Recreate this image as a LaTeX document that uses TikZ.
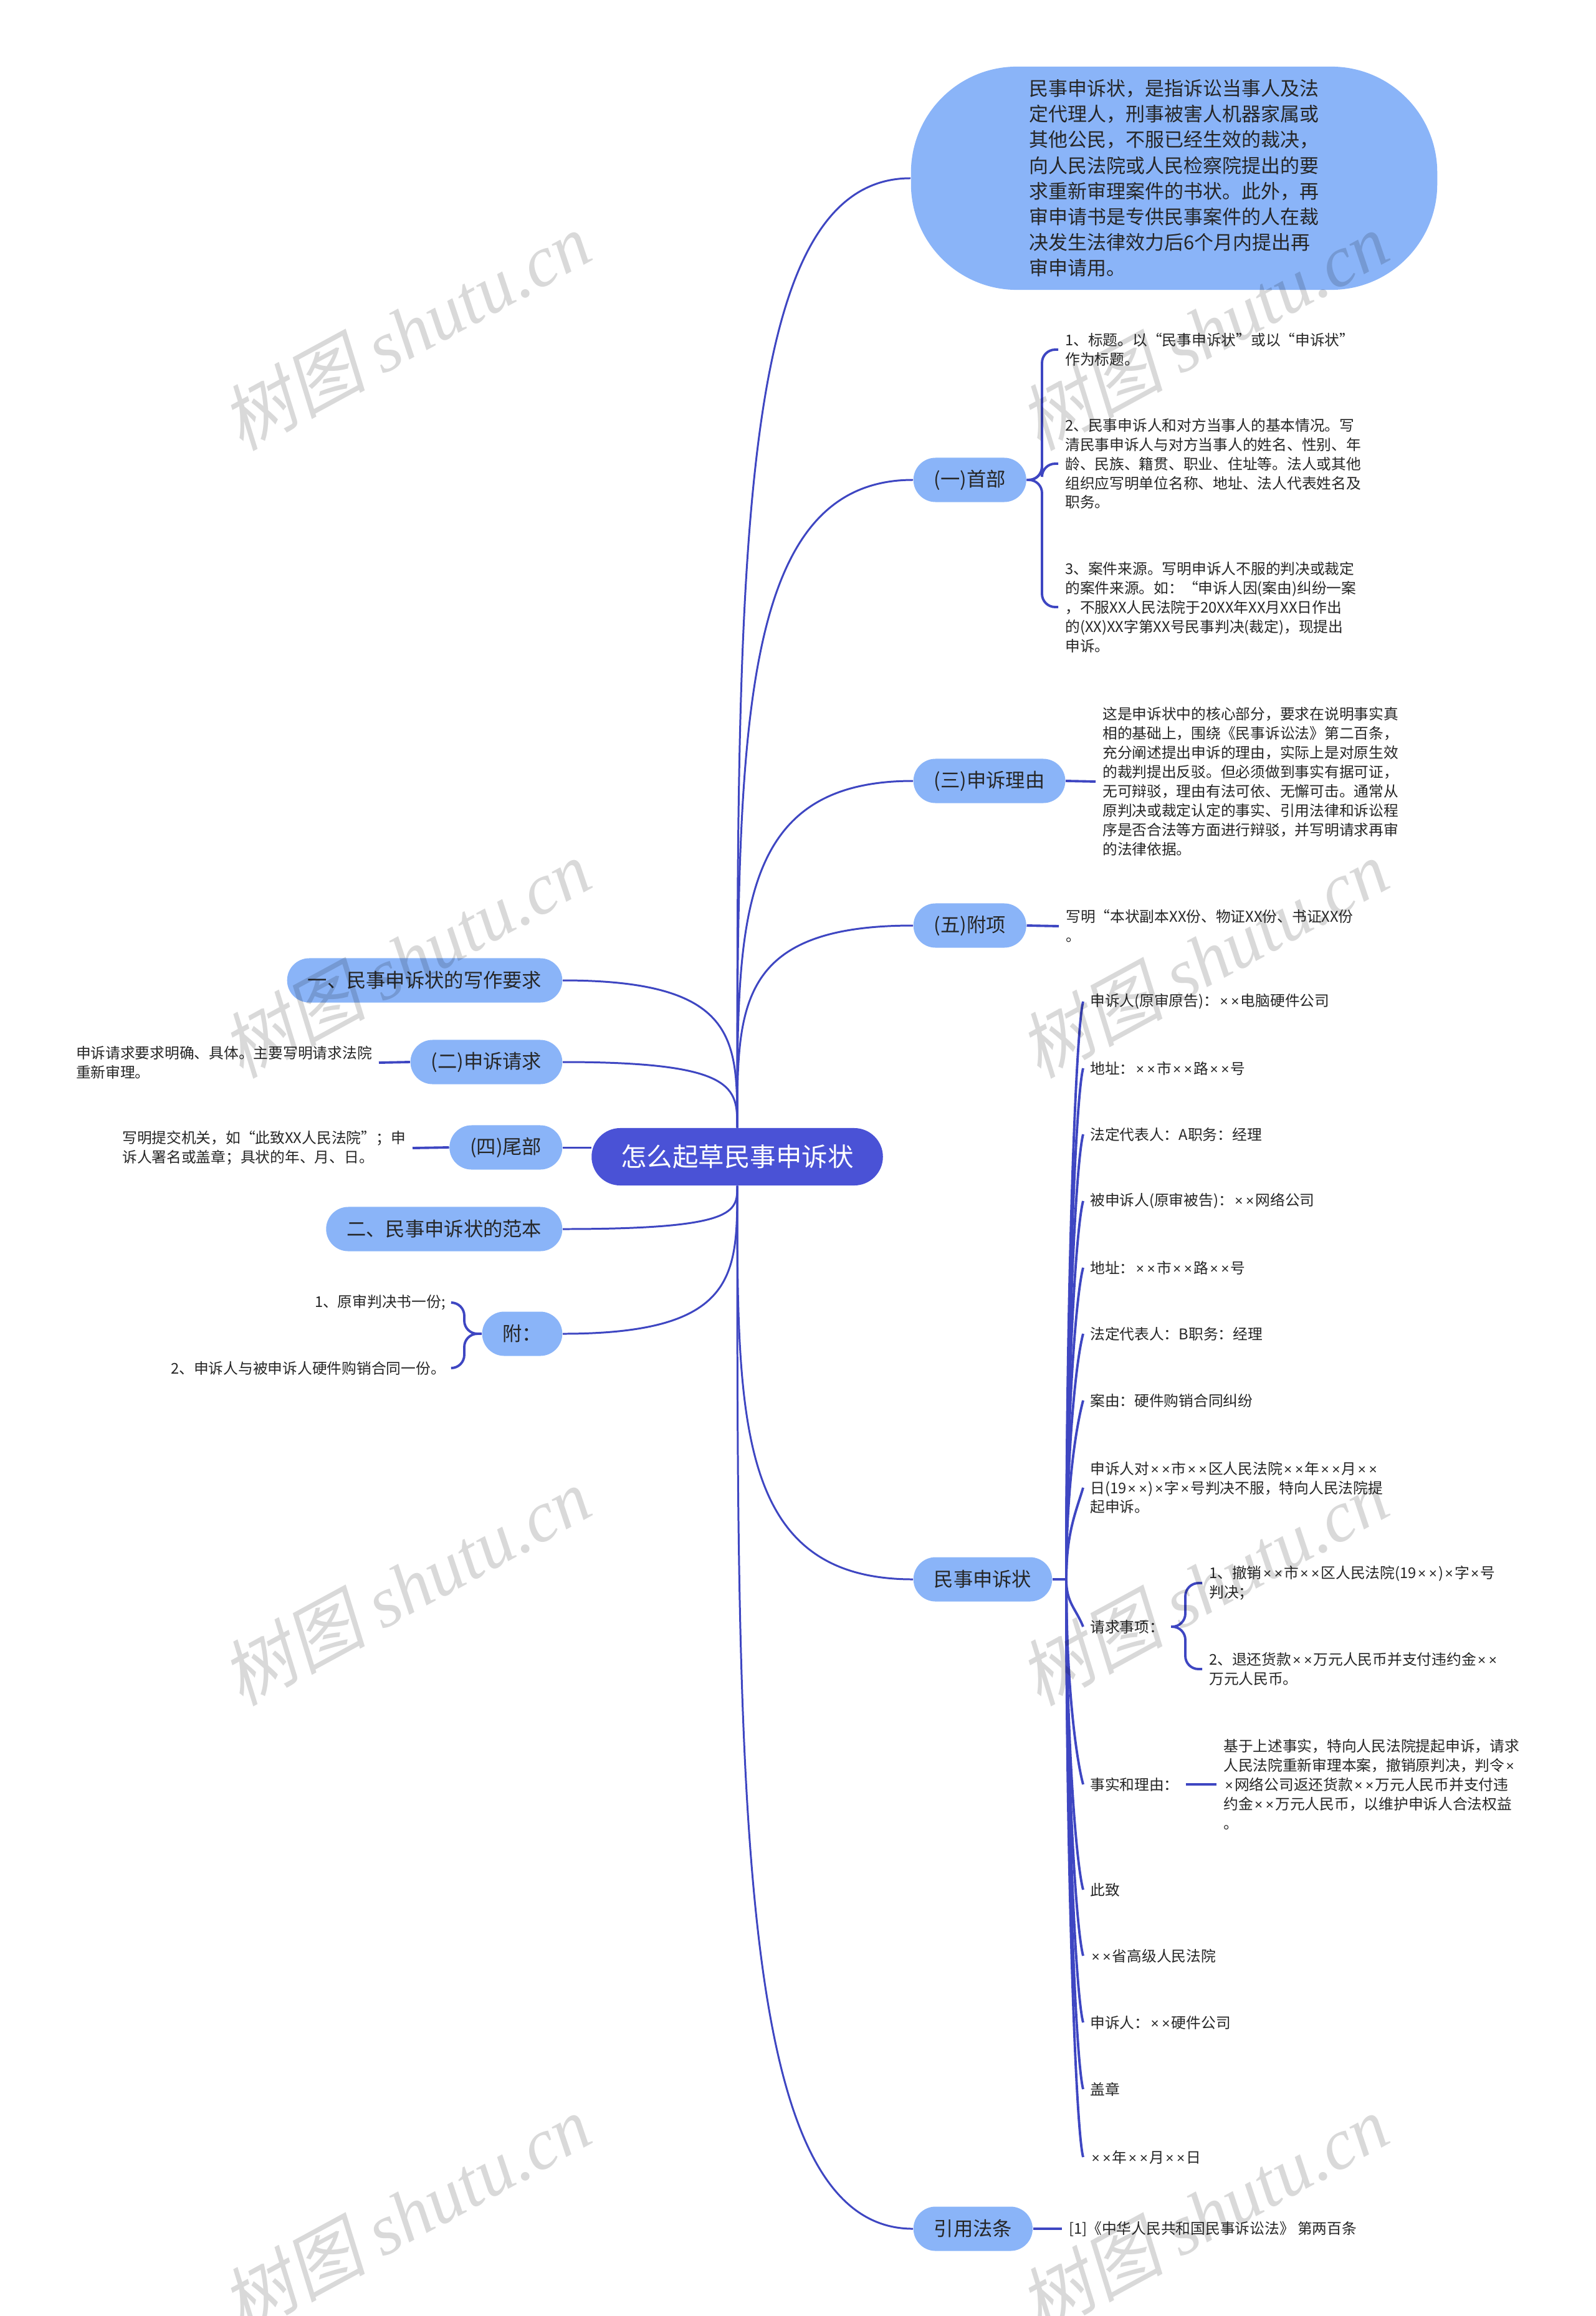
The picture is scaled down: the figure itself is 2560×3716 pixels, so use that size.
\documentclass[tikz,border=0pt]{standalone}
\usepackage{fontspec}
\setmainfont{Noto Sans CJK SC}
\newfontfamily\wmlatin{Liberation Serif}
\newfontfamily\wmcjk[FakeSlant=0.2]{Noto Sans CJK SC}
\newfontfamily\tmsfont{Liberation Sans}
\usepackage{tikz}

\definecolor{rootblue}{HTML}{4A52D6}
\definecolor{topicblue}{HTML}{8AB4F8}
\definecolor{linkblue}{HTML}{3E46C2}
\definecolor{inkgray}{HTML}{262626}

\newcommand\tms{\makebox[0.75em]{\tmsfont\fontsize{6.4}{6}\selectfont ×}}

\begin{document}
\begin{tikzpicture}[x=0.01cm, y=-0.01cm,
	rootbox/.style={fill=rootblue, text=white, rounded corners=0.46cm,
		minimum height=0.92cm, inner xsep=0.47cm, font=\fontsize{11.8}{14}\selectfont},
	defbox/.style={fill=topicblue, text=inkgray, rounded corners=1.7cm,
		minimum width=8.44cm, minimum height=3.58cm, align=left,
		font=\fontsize{8.8}{11.7}\selectfont},
	topic/.style={fill=topicblue, text=inkgray, rounded corners=0.355cm,
		minimum height=0.71cm, inner xsep=0.33cm, font=\fontsize{8.9}{10}\selectfont},
	leaf/.style={text=inkgray, align=left, inner xsep=3pt, inner ysep=1pt,
		font=\fontsize{6.75}{8.8}\selectfont},
	trunk/.style={draw=linkblue, line width=0.85pt},
	branch/.style={draw=linkblue, line width=1.1pt, rounded corners=6pt},
	wmtext/.style={rotate=28.5, text=black, text opacity=0.15, inner sep=0,
		font=\fontsize{33}{33}\selectfont}]

\fill[white] (0, 0) rectangle (2560, 3716);
\useasboundingbox (0, 0) rectangle (2560, 3716);

\node[rootbox] (root) at (1183, 1856) {怎么起草民事申诉状};

%right topics
\node[defbox] (def) at (1884, 286) {民事申诉状，是指诉讼当事人及法\\定代理人，刑事被害人机器家属或\\其他公民，不服已经生效的裁决，\\向人民法院或人民检察院提出的要\\求重新审理案件的书状。此外，再\\审申请书是专供民事案件的人在裁\\决发生法律效力后6个月内提出再\\审申请用。};
\node[topic, anchor=west] (shoubu) at (1465, 770) {(一)首部};
\node[topic, anchor=west] (liyou) at (1465, 1253) {(三)申诉理由};
\node[topic, anchor=west] (fuxiang) at (1465, 1485) {(五)附项};
\node[topic, anchor=west] (zhuang) at (1465, 2534) {民事申诉状};
\node[topic, anchor=west] (fatiao) at (1465, 3576) {引用法条};

%left topics
\node[topic, anchor=east] (req) at (903, 1573) {一、民事申诉状的写作要求};
\node[topic, anchor=east] (qingqiu) at (903, 1704) {(二)申诉请求};
\node[topic, anchor=east] (weibu) at (903, 1841) {(四)尾部};
\node[topic, anchor=east] (fanben) at (903, 1972) {二、民事申诉状的范本};
\node[topic, anchor=east] (fu) at (903, 2140) {附：};

%leaves
\node[leaf, anchor=west] (s1) at (1698, 561) {1、标题。以“民事申诉状”或以“申诉状”\\作为标题。};
\node[leaf, anchor=west] (s2) at (1698, 744) {2、民事申诉人和对方当事人的基本情况。写\\清民事申诉人与对方当事人的姓名、性别、年\\龄、民族、籍贯、职业、住址等。法人或其他\\组织应写明单位名称、地址、法人代表姓名及\\职务。};
\node[leaf, anchor=west] (s3) at (1698, 974) {3、案件来源。写明申诉人不服的判决或裁定\\的案件来源。如：“申诉人因(案由)纠纷一案\\，不服XX人民法院于20XX年XX月XX日作出\\的(XX)XX字第XX号民事判决(裁定)，现提出\\申诉。};
\node[leaf, anchor=west] (ly1) at (1758, 1254) {这是申诉状中的核心部分，要求在说明事实真\\相的基础上，围绕《民事诉讼法》第二百条，\\充分阐述提出申诉的理由，实际上是对原生效\\的裁判提出反驳。但必须做到事实有据可证，\\无可辩驳，理由有法可依、无懈可击。通常从\\原判决或裁定认定的事实、引用法律和诉讼程\\序是否合法等方面进行辩驳，并写明请求再审\\的法律依据。};
\node[leaf, anchor=west] (fx1) at (1699, 1486) {写明“本状副本XX份、物证XX份、书证XX份\\。};

\node[leaf, anchor=west] (z1) at (1738, 1607) {申诉人(原审原告)：\tms\tms 电脑硬件公司};
\node[leaf, anchor=west] (z2) at (1738, 1714) {地址：\tms\tms 市\tms\tms 路\tms\tms 号};
\node[leaf, anchor=west] (z3) at (1738, 1820) {法定代表人：A职务：经理};
\node[leaf, anchor=west] (z4) at (1738, 1927) {被申诉人(原审被告)：\tms\tms 网络公司};
\node[leaf, anchor=west] (z5) at (1738, 2034) {地址：\tms\tms 市\tms\tms 路\tms\tms 号};
\node[leaf, anchor=west] (z6) at (1738, 2140) {法定代表人：B职务：经理};
\node[leaf, anchor=west] (z7) at (1738, 2247) {案由：硬件购销合同纠纷};
\node[leaf, anchor=west] (z8) at (1738, 2387) {申诉人对\tms\tms 市\tms\tms 区人民法院\tms\tms 年\tms\tms 月\tms\tms\\日(19\tms\tms)\tms 字\tms 号判决不服，特向人民法院提\\起申诉。};
\node[leaf, anchor=west] (zq) at (1738, 2610) {请求事项：};
\node[leaf, anchor=west] (q1) at (1929, 2540) {1、撤销\tms\tms 市\tms\tms 区人民法院(19\tms\tms)\tms 字\tms 号\\判决；};
\node[leaf, anchor=west] (q2) at (1929, 2678) {2、退还货款\tms\tms 万元人民币并支付违约金\tms\tms\\万元人民币。};
\node[leaf, anchor=west] (zf) at (1738, 2863) {事实和理由：};
\node[leaf, anchor=west] (f1) at (1952, 2863) {基于上述事实，特向人民法院提起申诉，请求\\人民法院重新审理本案，撤销原判决，判令\tms\\\tms 网络公司返还货款\tms\tms 万元人民币并支付违\\约金\tms\tms 万元人民币，以维护申诉人合法权益\\。};
\node[leaf, anchor=west] (z9) at (1738, 3032) {此致};
\node[leaf, anchor=west] (z10) at (1738, 3138) {\tms\tms 省高级人民法院};
\node[leaf, anchor=west] (z11) at (1738, 3245) {申诉人：\tms\tms 硬件公司};
\node[leaf, anchor=west] (z12) at (1738, 3352) {盖章};
\node[leaf, anchor=west] (z13) at (1738, 3461) {\tms\tms 年\tms\tms 月\tms\tms 日};
\node[leaf, anchor=west] (ft1) at (1704, 3576) {[1]《中华人民共和国民事诉讼法》 第两百条};

\node[leaf, anchor=east] (qq1) at (608, 1705) {申诉请求要求明确、具体。主要写明请求法院\\重新审理。};
\node[leaf, anchor=east] (wb1) at (662, 1842) {写明提交机关，如“此致XX人民法院”；申\\诉人署名或盖章；具状的年、月、日。};
\node[leaf, anchor=east] (fu1) at (726, 2090) {1、原审判决书一份;};
\node[leaf, anchor=east] (fu2) at (726, 2195) {2、申诉人与被申诉人硬件购销合同一份。};

%root links
\draw[trunk] (root.north) .. controls +(0, -914) and +(-279, 0) .. (def.west);
\draw[trunk] (root.north) .. controls +(0, -624) and +(-282, 0) .. (shoubu.west);
\draw[trunk] (root.north) .. controls +(0, -334) and +(-282, 0) .. (liyou.west);
\draw[trunk] (root.north) .. controls +(0, -195) and +(-282, 0) .. (fuxiang.west);
\draw[trunk] (root.south) .. controls +(0, 379) and +(-282, 0) .. (zhuang.west);
\draw[trunk] (root.south) .. controls +(0, 1004) and +(-282, 0) .. (fatiao.west);
\draw[trunk] (root.north) .. controls +(0, -142) and +(280, 0) .. (req.east);
\draw[trunk] (root.north) .. controls +(0, -64) and +(280, 0) .. (qingqiu.east);
\draw[trunk] (weibu.east) -- (weibu.east -| root.west);
\draw[trunk] (root.south) .. controls +(0, 42) and +(280, 0) .. (fanben.east);
\draw[trunk] (root.south) .. controls +(0, 143) and +(280, 0) .. (fu.east);

%brackets
\draw[branch] (shoubu.east) -- (1672, 770) |- (s1.west);
\draw[branch] (shoubu.east) -- (1672, 770) |- (s2.west);
\draw[branch] (shoubu.east) -- (1672, 770) |- (s3.west);
\draw[branch] (liyou.east) -- (ly1.west);
\draw[branch] (fuxiang.east) -- (fx1.west);
\draw[branch] (fatiao.east) -- (ft1.west);
\draw[branch] (qingqiu.west) -- (qq1.east);
\draw[branch] (weibu.west) -- (wb1.east);
\draw[branch] (fu.west) -- (745, 2140) |- (fu1.east);
\draw[branch] (fu.west) -- (745, 2140) |- (fu2.east);
\draw[branch] (zq.east) -- (1902, 2610) |- (q1.west);
\draw[branch] (zq.east) -- (1902, 2610) |- (q2.west);
\draw[branch] (zf.east) -- (f1.west);

%fan of the sample letter
\coordinate (zj) at (1711, 2534);
\draw[branch] (zhuang.east) -- (zj);
\draw[branch] (zj) .. controls +(0, -464) and +(-12, 45) .. (z1.west);
\draw[branch] (zj) .. controls +(0, -410) and +(-12, 45) .. (z2.west);
\draw[branch] (zj) .. controls +(0, -357) and +(-12, 45) .. (z3.west);
\draw[branch] (zj) .. controls +(0, -304) and +(-12, 45) .. (z4.west);
\draw[branch] (zj) .. controls +(0, -250) and +(-12, 45) .. (z5.west);
\draw[branch] (zj) .. controls +(0, -197) and +(-12, 45) .. (z6.west);
\draw[branch] (zj) .. controls +(0, -144) and +(-12, 45) .. (z7.west);
\draw[branch] (zj) .. controls +(0, -74) and +(-12, 40) .. (z8.west);
\draw[branch] (zj) .. controls +(0, 38) and +(-12, -30) .. (zq.west);
\draw[branch] (zj) .. controls +(0, 165) and +(-12, -45) .. (zf.west);
\draw[branch] (zj) .. controls +(0, 249) and +(-12, -45) .. (z9.west);
\draw[branch] (zj) .. controls +(0, 302) and +(-12, -45) .. (z10.west);
\draw[branch] (zj) .. controls +(0, 356) and +(-12, -45) .. (z11.west);
\draw[branch] (zj) .. controls +(0, 409) and +(-12, -45) .. (z12.west);
\draw[branch] (zj) .. controls +(0, 464) and +(-12, -45) .. (z13.west);

%watermarks
\node[wmtext] (wm1) at (651, 531) {{\wmcjk 树图} {\wmlatin\itshape shutu.cn}};
\node[wmtext] (wm2) at (1931, 531) {{\wmcjk 树图} {\wmlatin\itshape shutu.cn}};
\node[wmtext] (wm3) at (651, 1538) {{\wmcjk 树图} {\wmlatin\itshape shutu.cn}};
\node[wmtext] (wm4) at (1931, 1538) {{\wmcjk 树图} {\wmlatin\itshape shutu.cn}};
\node[wmtext] (wm5) at (651, 2545) {{\wmcjk 树图} {\wmlatin\itshape shutu.cn}};
\node[wmtext] (wm6) at (1931, 2545) {{\wmcjk 树图} {\wmlatin\itshape shutu.cn}};
\node[wmtext] (wm7) at (651, 3552) {{\wmcjk 树图} {\wmlatin\itshape shutu.cn}};
\node[wmtext] (wm8) at (1931, 3552) {{\wmcjk 树图} {\wmlatin\itshape shutu.cn}};

\end{tikzpicture}
\end{document}
